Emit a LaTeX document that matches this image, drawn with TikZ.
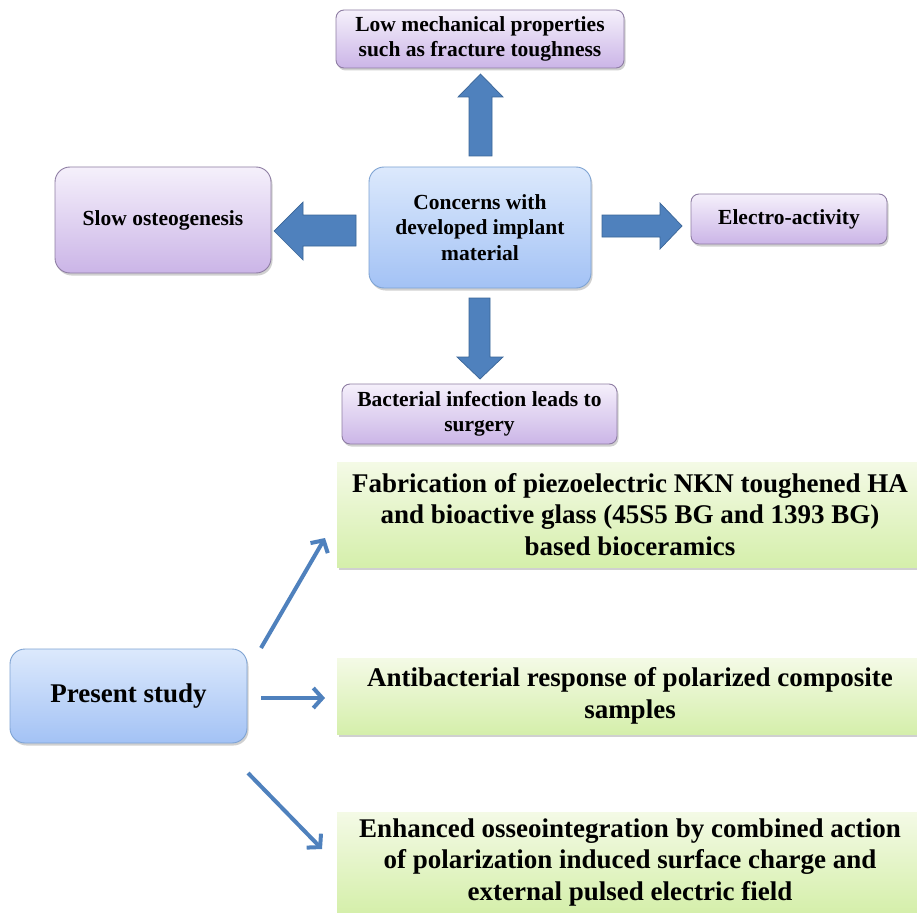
\documentclass[tikz,border=0pt]{standalone}
\usepackage{fontspec}
\setmainfont{Liberation Serif}
\usetikzlibrary{shadows,arrows.meta}
\definecolor{bluetop}{HTML}{DCE9FC}
\definecolor{bluebot}{HTML}{A3C2F5}
\definecolor{blueline}{HTML}{7EA3D3}
\definecolor{purtop}{HTML}{F5F0FB}
\definecolor{purbot}{HTML}{CBB5E7}
\definecolor{purline}{HTML}{8E7DA3}
\definecolor{grntop}{HTML}{F4FAE6}
\definecolor{grnbot}{HTML}{D5EFAB}
\definecolor{arrfill}{HTML}{4F81BD}
\definecolor{arrline}{HTML}{3A6597}
\tikzset{
  boxshadow/.style={drop shadow={shadow xshift=1.5pt,shadow yshift=-2.5pt,opacity=0.3,fill=black!60}},
  purbox/.style={rectangle,draw=purline,line width=0.9pt,top color=purtop,bottom color=purbot,
    rounded corners=8pt,align=center,font=\fontsize{21.5}{25}\selectfont\bfseries,inner sep=2pt,boxshadow},
  bluebox/.style={rectangle,draw=blueline,line width=0.9pt,top color=bluetop,bottom color=bluebot,
    rounded corners=15pt,align=center,inner sep=2pt,boxshadow},
  grnbox/.style={rectangle,draw=none,top color=grntop,bottom color=grnbot,
    align=center,font=\fontsize{27}{31.5}\selectfont\bfseries,inner sep=2pt,boxshadow},
  blockarrow/.style={fill=arrfill,draw=arrline,line width=0.7pt,line join=miter},
  thinarrow/.style={draw=arrfill,line width=4pt,-{Straight Barb[length=9pt,width=20pt]}}
}
\begin{document}
\begin{tikzpicture}[x=1pt,y=-1pt]
\useasboundingbox[fill=white] (0,0) rectangle (917,912);

% top cluster
\node[purbox,minimum width=288pt,minimum height=58pt] (low) at (480,39)
  {Low mechanical properties\\such as fracture toughness};
\node[bluebox,minimum width=222pt,minimum height=121pt,font=\fontsize{21.5}{25.5}\selectfont\bfseries] (concern) at (480,227.5)
  {Concerns with\\developed implant\\material};
\node[purbox,rounded corners=15pt,minimum width=216pt,minimum height=106pt] (slow) at (163,220)
  {Slow osteogenesis};
\node[purbox,minimum width=196pt,minimum height=50pt] (electro) at (789,219)
  {Electro-activity};
\node[purbox,minimum width=275pt,minimum height=60pt] (bact) at (479.5,414)
  {Bacterial infection leads to\\surgery};

% block arrows
\draw[blockarrow] (469,156) -- (469,97) -- (458,97) -- (480.5,74) -- (503,97) -- (492,97) -- (492,156) -- cycle;
\draw[blockarrow] (356,215) -- (303,215) -- (303,202) -- (274,231) -- (303,260) -- (303,246) -- (356,246) -- cycle;
\draw[blockarrow] (602,215) -- (660,215) -- (660,203) -- (682,226) -- (660,249) -- (660,237) -- (602,237) -- cycle;
\draw[blockarrow] (469,298) -- (469,357) -- (457,357) -- (480,379) -- (503,357) -- (490,357) -- (490,298) -- cycle;

% bottom part
\node[grnbox,minimum width=586pt,minimum height=105pt] (fab) at (630,514.5)
  {Fabrication of piezoelectric NKN toughened HA\\and bioactive glass (45S5 BG and 1393 BG)\\based bioceramics};
\node[grnbox,minimum width=586pt,minimum height=76pt] (anti) at (630,696)
  {Antibacterial response of polarized composite\\samples};
\node[grnbox,minimum width=586pt,minimum height=100pt] (enh) at (630,862)
  {Enhanced osseointegration by combined action\\of polarization induced surface charge and\\external pulsed electric field};
\node[bluebox,minimum width=237pt,minimum height=94pt,font=\fontsize{27}{31}\selectfont\bfseries] (present) at (128.5,696)
  {Present study};

\coordinate (s1) at (261,648);
\coordinate (e1) at (325,538);
\coordinate (s2) at (261,698);
\coordinate (e2) at (325,698);
\coordinate (s3) at (248,773);
\coordinate (e3) at (322,849);
\draw[thinarrow] (s1) -- (e1);
\draw[thinarrow] (s2) -- (e2);
\draw[thinarrow] (s3) -- (e3);
\end{tikzpicture}
\end{document}
